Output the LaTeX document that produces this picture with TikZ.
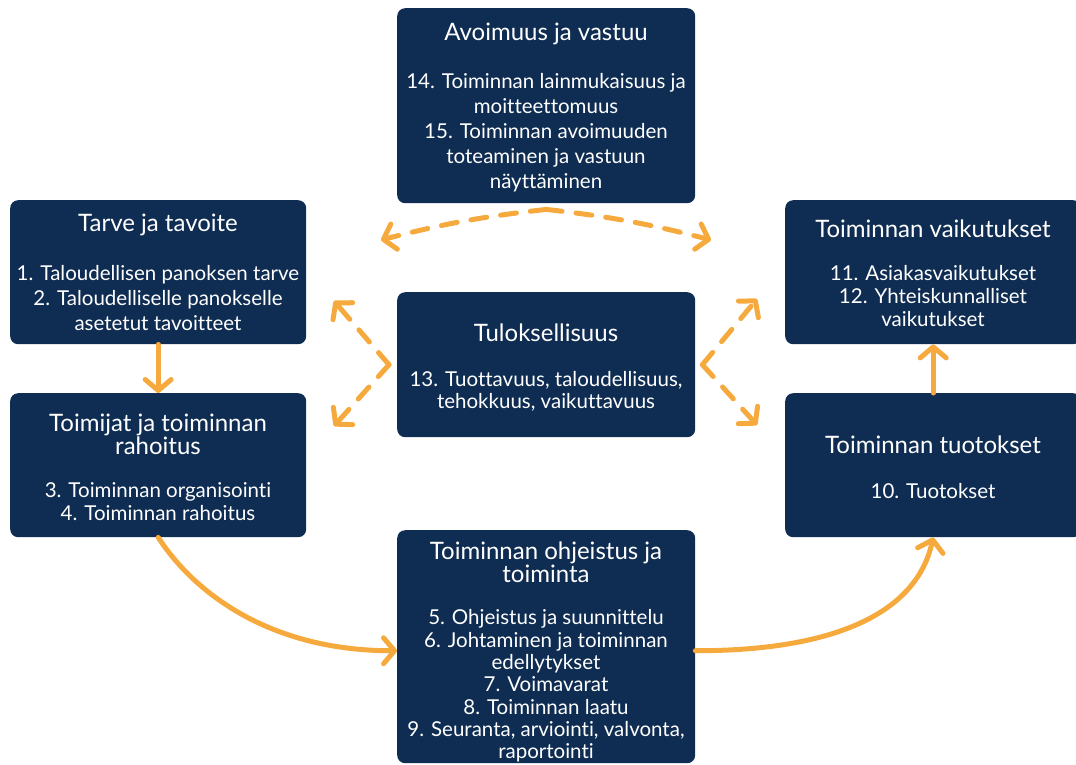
\documentclass[tikz,border=0pt]{standalone}
\usepackage{fontspec}
\setmainfont{Lato}[Ligatures={NoCommon}]
\usetikzlibrary{arrows.meta,calc}
\definecolor{navy}{HTML}{0F2D52}
\definecolor{orng}{HTML}{F6AA3D}
\tikzset{
  box/.style={fill=navy, rounded corners=8pt, inner sep=0pt, anchor=north west},
  ttl/.style={text=white, align=center, font=\fontsize{24}{25}\selectfont},
  bdy/.style={text=white, align=center, font=\fontsize{20.5}{24}\selectfont},
  tipd/.style={-{Straight Barb[round, length=11pt, width=26pt]}},
  flow/.style={draw=orng, line width=5pt, line cap=round, tipd},
  dflow/.style={flow, dash pattern=on 16pt off 14pt}
}
\begin{document}
\begin{tikzpicture}[x=1pt, y=-1pt]
\useasboundingbox (0,0) rectangle (1076,764);
\clip (0,0) rectangle (1076,764);

% boxes
\node (top) [box, minimum width=298pt, minimum height=195pt] at (397,8) {};
\node (lt)  [box, minimum width=296pt, minimum height=144pt] at (10,200) {};
\node (lm)  [box, minimum width=296pt, minimum height=144pt] at (10,393) {};
\node (mid) [box, minimum width=298pt, minimum height=145pt] at (397,292) {};
\node (rt)  [box, minimum width=296pt, minimum height=144pt] at (785,200) {};
\node (rm)  [box, minimum width=296pt, minimum height=144pt] at (785,393) {};
\node (bot) [box, minimum width=298pt, minimum height=233pt] at (397,530) {};

% texts
\node (topT) [ttl] at (546,34) {Avoimuus ja vastuu};
\node (topB) [bdy, font=\fontsize{20.5}{25}\selectfont] at (546,133) {14. Toiminnan lainmukaisuus ja\\moitteettomuus\\15. Toiminnan avoimuuden\\toteaminen ja vastuun\\näyttäminen};

\node (ltT) [ttl] at (158,225) {Tarve ja tavoite};
\node (ltB) [bdy, font=\fontsize{20.5}{25}\selectfont] at (158,298) {1. Taloudellisen panoksen tarve\\2. Taloudelliselle panokselle\\asetetut tavoitteet};

\node (lmT) [ttl, font=\fontsize{24}{23}\selectfont] at (158,434) {Toimijat ja toiminnan\\rahoitus};
\node (lmB) [bdy, font=\fontsize{20.5}{23}\selectfont] at (158,502) {3. Toiminnan organisointi\\4. Toiminnan rahoitus};

\node (midT) [ttl] at (546,333) {Tuloksellisuus};
\node (midB) [bdy, font=\fontsize{20.5}{22}\selectfont] at (546,391) {13. Tuottavuus, taloudellisuus,\\tehokkuus, vaikuttavuus};

\node (rtT) [ttl] at (933,229) {Toiminnan vaikutukset};
\node (rtB) [bdy, font=\fontsize{20.5}{23}\selectfont] at (933,296) {11. Asiakasvaikutukset\\12. Yhteiskunnalliset\\vaikutukset};

\node (rmT) [ttl] at (933,445) {Toiminnan tuotokset};
\node (rmB) [bdy] at (933,491) {10. Tuotokset};

\node (botT) [ttl, font=\fontsize{24}{23}\selectfont] at (546,562) {Toiminnan ohjeistus ja\\toiminta};
\node (botB) [bdy, font=\fontsize{20.5}{22.3}\selectfont] at (546,686) {5. Ohjeistus ja suunnittelu\\6. Johtaminen ja toiminnan\\edellytykset\\7. Voimavarat\\8. Toiminnan laatu\\9. Seuranta, arviointi, valvonta,\\raportointi};

% solid connectors
\draw[flow] (lt.south) -- (lm.north);
\draw[flow] (rm.north) -- (rt.south);
\draw[flow] (lm.south) .. controls (197,597) and (275,651) .. ([yshift=-4pt]bot.west);
\draw[flow] ([yshift=-4pt]bot.east) .. controls (820,651) and (915,620) .. (rm.south);

% dashed connectors from the top box
\coordinate (apT) at ($(top.south)+(0,6)$);
\coordinate (endTL) at (381,240);
\coordinate (endTR) at (711,240);
\draw[dflow] (apT) to[bend right=4] (endTL);
\draw[dflow] (apT) to[bend left=4] (endTR);

% dashed connectors from the centre box
\coordinate (apL) at ($(mid.west)+(-8,0)$);
\coordinate (apR) at ($(mid.east)+(7,0)$);
\coordinate (endLU) at (334,301);
\coordinate (endLD) at (334,426);
\coordinate (endRU) at (757,299);
\coordinate (endRD) at (757,425);
\draw[dflow] (apL) -- (endLU);
\draw[dflow] (apL) -- (endLD);
\draw[dflow] (apR) -- (endRU);
\draw[dflow] (apR) -- (endRD);
\end{tikzpicture}
\end{document}
